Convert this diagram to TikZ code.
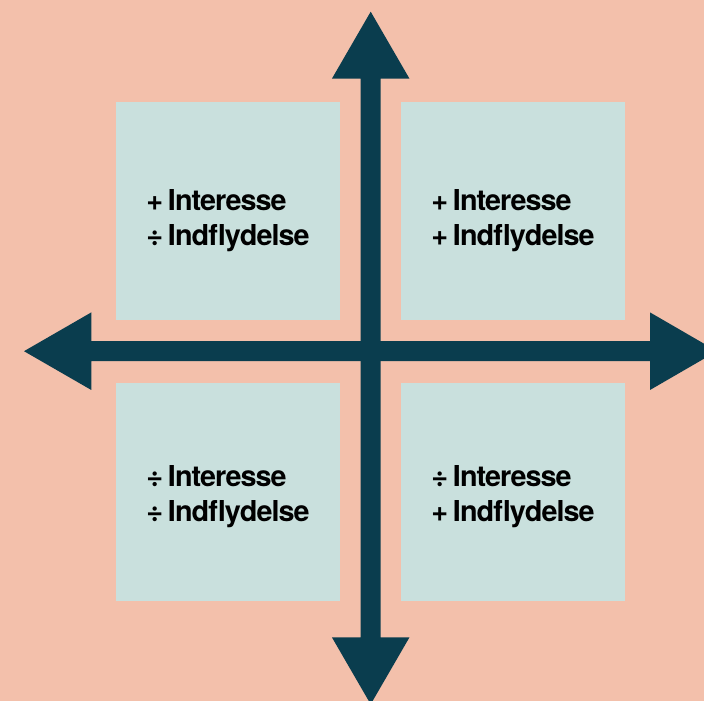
\documentclass[tikz,border=0pt]{standalone}
\usepackage{fontspec}
\usepackage{tikz}
\newfontfamily\quadfont[LetterSpace=-3.4]{TeX Gyre Heros}

\definecolor{salmon}{RGB}{243,192,171}
\definecolor{paleteal}{RGB}{201,224,221}
\definecolor{deepteal}{RGB}{10,61,78}

\tikzset{
	quad/.style={fill=paleteal, draw=none, inner sep=0pt, minimum width=224pt, minimum height=218pt},
	quadtext/.style={inner sep=0pt, align=left, font=\quadfont\bfseries\fontsize{28.8}{35}\selectfont},
	axis/.style={fill=deepteal, draw=none}
}

\begin{document}
\begin{tikzpicture}[x=1pt,y=1pt]
	\useasboundingbox (0,0) rectangle (704,701);
	\clip (0,0) rectangle (704,701);
	\fill[salmon] (0,0) rectangle (704,701);
	
	%quadrants
	\node[quad] (tl) at (228,490)   {};
	\node[quad] (tr) at (513,490)   {};
	\node[quad] (bl) at (228,209)   {};
	\node[quad] (br) at (513,209)   {};
	
	%axes
	\fill[axis] (360.7,63.7) -- (360.7,622.3) -- (331.9,622.3) -- (370.7,689.3) -- (409.5,622.3)
		-- (380.7,622.3) -- (380.7,63.7) -- (409.5,63.7) -- (370.7,-3.3) -- (331.9,63.7) -- cycle;	%vertical
	\fill[axis] (91.3,339.8) -- (650,339.8) -- (650,311) -- (717,349.8) -- (650,388.6)
		-- (650,359.8) -- (91.3,359.8) -- (91.3,388.6) -- (24,349.8) -- (91.3,311) -- cycle;		%horizontal
	
	%labels
	\node[quadtext] (tltext) at ([yshift=-10pt]tl.center) {+\,Interesse\\÷\,Indflydelse};
	\node[quadtext] (trtext) at ([yshift=-10pt]tr.center) {+\,Interesse\\+\,Indflydelse};
	\node[quadtext] (bltext) at ([yshift=-5pt]bl.center)  {÷\,Interesse\\÷\,Indflydelse};
	\node[quadtext] (brtext) at ([yshift=-5pt]br.center)  {÷\,Interesse\\+\,Indflydelse};
	
	%\draw[help lines, step=50] (0,0) grid (704,701);
\end{tikzpicture}
\end{document}
